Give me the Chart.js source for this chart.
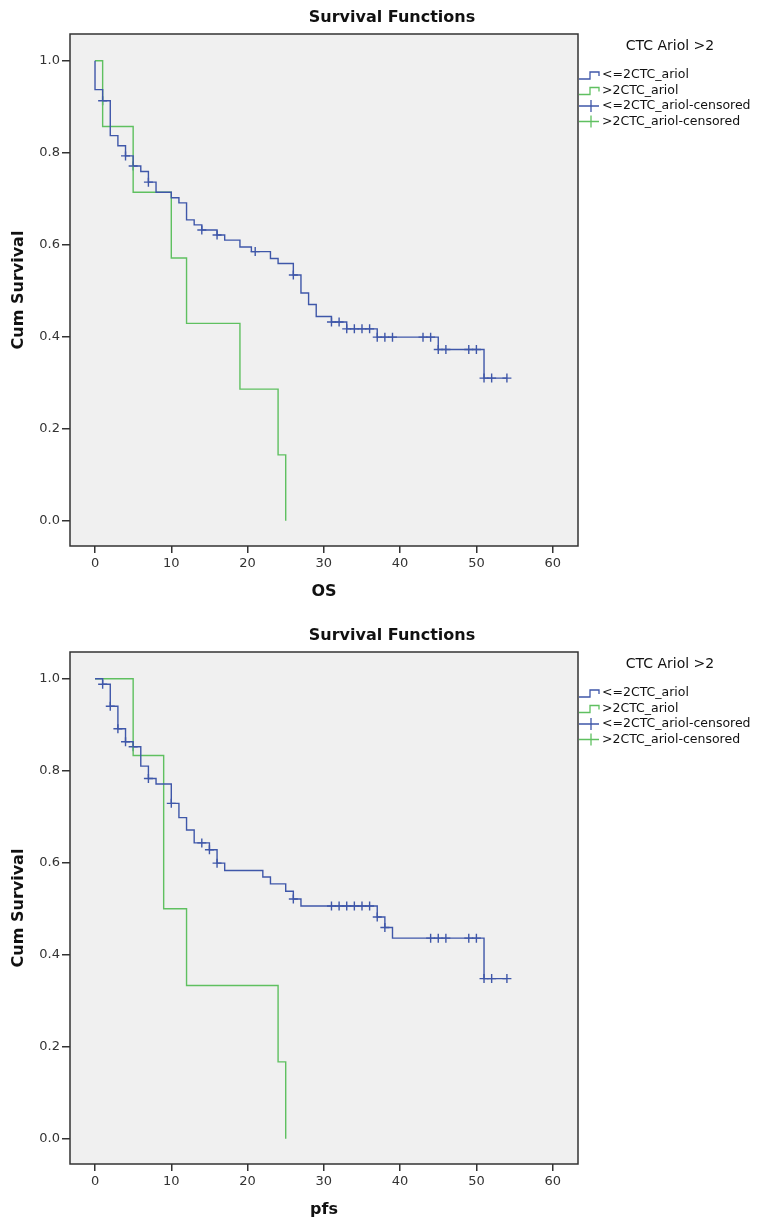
<!DOCTYPE html>
<html>
<head>
<meta charset="utf-8">
<script src="https://cdn.jsdelivr.net/npm/chart.js@4.4.1/dist/chart.umd.min.js"></script>
<style>
  body { margin: 0; background: #fff; }
  #wrap { position: relative; width: 774px; height: 1229px; }
  canvas { position: absolute; left: 0; }
</style>
</head>
<body>
<div id="wrap">
  <canvas id="osChart" width="774" height="611" style="top:0"></canvas>
  <canvas id="pfsChart" width="774" height="611" style="top:618px"></canvas>
</div>
<script>
// ---- data ----
const chartTitle = 'Survival Functions';
const legendTitle = 'CTC Ariol >2';
const seriesLabels = ['<=2CTC_ariol', '>2CTC_ariol', '<=2CTC_ariol-censored', '>2CTC_ariol-censored'];
const xTickValues = [0, 10, 20, 30, 40, 50, 60];
const yTickValues = [0, 0.2, 0.4, 0.6, 0.8, 1.0];

// OS, <=2 CTC
const osLowTime = [0, 0, 1, 2, 3, 4, 5, 6, 7, 8, 10, 11, 12, 13, 14, 16, 17, 19, 20.5, 23, 24, 26, 27, 28, 29, 31, 33, 37, 45, 51, 54];
const osLowSurv = [1.0, 0.937, 0.913, 0.837, 0.815, 0.793, 0.771, 0.759, 0.736, 0.714, 0.702, 0.691, 0.654, 0.643, 0.632, 0.621, 0.610, 0.595, 0.585, 0.570, 0.559, 0.534, 0.495, 0.470, 0.444, 0.432, 0.417, 0.399, 0.372, 0.310, 0.310];
const osLowCensTime = [1, 4, 5, 7, 14, 16, 21, 26, 31, 32, 33, 34, 35, 36, 37, 38, 39, 43, 44, 45, 46, 49, 50, 51, 52, 54];
const osLowCensSurv = [0.913, 0.793, 0.771, 0.736, 0.632, 0.621, 0.585, 0.534, 0.432, 0.432, 0.417, 0.417, 0.417, 0.417, 0.399, 0.399, 0.399, 0.399, 0.399, 0.372, 0.372, 0.372, 0.372, 0.310, 0.310, 0.310];
// OS, >2 CTC
const osHighTime = [0, 1, 5, 10, 12, 19, 24, 25];
const osHighSurv = [1.0, 0.857, 0.714, 0.571, 0.429, 0.286, 0.143, 0.0];

// PFS, <=2 CTC
const pfsLowTime = [0, 1, 2, 3, 4, 5, 6, 7, 8, 10, 11, 12, 13, 15, 16, 17, 22, 23, 25, 26, 27, 37, 38, 39, 51, 54];
const pfsLowSurv = [1.0, 0.988, 0.940, 0.891, 0.863, 0.852, 0.810, 0.783, 0.771, 0.729, 0.698, 0.671, 0.643, 0.628, 0.599, 0.583, 0.569, 0.554, 0.538, 0.521, 0.506, 0.482, 0.459, 0.436, 0.348, 0.348];
const pfsLowCensTime = [1, 2, 3, 4, 5, 7, 10, 14, 15, 16, 26, 31, 32, 33, 34, 35, 36, 37, 38, 44, 45, 46, 49, 50, 51, 52, 54];
const pfsLowCensSurv = [0.988, 0.940, 0.891, 0.863, 0.852, 0.783, 0.729, 0.643, 0.628, 0.599, 0.521, 0.506, 0.506, 0.506, 0.506, 0.506, 0.506, 0.482, 0.459, 0.436, 0.436, 0.436, 0.436, 0.436, 0.348, 0.348, 0.348];
// PFS, >2 CTC
const pfsHighTime = [0, 5, 9, 12, 24, 25];
const pfsHighSurv = [1.0, 0.833, 0.5, 0.333, 0.167, 0.0];

const BLUE = '#3f57a9';
const GREEN = '#5fc060';
const FONT = '"DejaVu Sans", sans-serif';

const toPoints = (t, s) => t.map((x, i) => ({ x: x, y: s[i] }));

// grey plot area, frame, title and the SPSS-style legend
const spssDecor = {
  id: 'spssDecor',
  beforeDraw(chart) {
    const a = chart.chartArea, ctx = chart.ctx;
    ctx.save();
    ctx.fillStyle = '#f0f0f0';
    ctx.fillRect(a.left, a.top, a.right - a.left, a.bottom - a.top);
    ctx.restore();
  },
  afterDraw(chart) {
    const a = chart.chartArea, ctx = chart.ctx;
    ctx.save();
    ctx.strokeStyle = '#333';
    ctx.lineWidth = 1.5;
    ctx.strokeRect(a.left, a.top, a.right - a.left, a.bottom - a.top);

    ctx.fillStyle = '#111';
    ctx.textAlign = 'center';
    ctx.textBaseline = 'middle';
    ctx.font = 'bold 16px ' + FONT;
    ctx.fillText(chartTitle, 392, 18);

    // legend
    ctx.font = '14px ' + FONT;
    ctx.fillText(legendTitle, 670, 46);
    ctx.font = '12.5px ' + FONT;
    ctx.textAlign = 'left';
    const colors = [BLUE, GREEN, BLUE, GREEN];
    const x0 = a.right + 1;
    seriesLabels.forEach((lab, i) => {
      const y = 75 + i * 15.5;
      ctx.strokeStyle = colors[i];
      ctx.lineWidth = 1.3;
      ctx.beginPath();
      if (i < 2) {
        ctx.moveTo(x0, y + 4); ctx.lineTo(x0 + 11, y + 4);
        ctx.lineTo(x0 + 11, y - 3); ctx.lineTo(x0 + 20, y - 3);
        ctx.lineTo(x0 + 20, y + 1);
      } else {
        ctx.moveTo(x0, y); ctx.lineTo(x0 + 20, y);
        ctx.moveTo(x0 + 12, y - 6); ctx.lineTo(x0 + 12, y + 6);
      }
      ctx.stroke();
      ctx.fillStyle = '#111';
      ctx.fillText(lab, x0 + 23, y);
    });
    ctx.restore();
  }
};

function makeChart(id, xTitle, low, high, lowCens, highCens) {
  const ctx = document.getElementById(id).getContext('2d');
  return new Chart(ctx, {
    type: 'scatter',
    data: {
      datasets: [
        { label: seriesLabels[0], data: low, showLine: true, stepped: true,
          borderColor: BLUE, borderWidth: 1.4, pointRadius: 0 },
        { label: seriesLabels[1], data: high, showLine: true, stepped: true,
          borderColor: GREEN, borderWidth: 1.4, pointRadius: 0 },
        { label: seriesLabels[2], data: lowCens, showLine: false, pointStyle: 'cross',
          pointRadius: 4.5, borderColor: BLUE, borderWidth: 1.4 },
        { label: seriesLabels[3], data: highCens, showLine: false, pointStyle: 'cross',
          pointRadius: 4.5, borderColor: GREEN, borderWidth: 1.4 }
      ]
    },
    options: {
      responsive: false,
      animation: false,
      layout: { padding: { top: 34, right: 196, left: 0, bottom: 0 } },
      plugins: { legend: { display: false }, title: { display: false }, tooltip: { enabled: false } },
      scales: {
        x: {
          type: 'linear', min: -3.28, max: 63.32,
          afterBuildTicks: (s) => { s.ticks = xTickValues.map(v => ({ value: v })); },
          afterFit: (s) => { s.height = 65; },
          grid: { drawOnChartArea: false, drawTicks: true, tickLength: 7, color: '#333', lineWidth: 1.5 },
          border: { display: false },
          ticks: { color: '#333', font: { family: FONT, size: 13 }, padding: 3 },
          title: { display: true, text: xTitle, color: '#111',
                   font: { family: FONT, size: 16, weight: 'bold' }, padding: { bottom: 10 } }
        },
        y: {
          type: 'linear', min: -0.055, max: 1.058,
          afterBuildTicks: (s) => { s.ticks = yTickValues.map(v => ({ value: v })); },
          afterFit: (s) => { s.width = 70; },
          grid: { drawOnChartArea: false, drawTicks: true, tickLength: 8, color: '#333', lineWidth: 1.5 },
          border: { display: false },
          ticks: { color: '#333', font: { family: FONT, size: 13 }, padding: 2,
                   callback: (v) => Number(v).toFixed(1) },
          title: { display: true, text: 'Cum Survival', color: '#111',
                   font: { family: FONT, size: 16, weight: 'bold' }, padding: { top: 9 } }
        }
      }
    },
    plugins: [spssDecor]
  });
}

makeChart('osChart', 'OS',
  toPoints(osLowTime, osLowSurv), toPoints(osHighTime, osHighSurv),
  toPoints(osLowCensTime, osLowCensSurv), []);
makeChart('pfsChart', 'pfs',
  toPoints(pfsLowTime, pfsLowSurv), toPoints(pfsHighTime, pfsHighSurv),
  toPoints(pfsLowCensTime, pfsLowCensSurv), []);
</script>
</body>
</html>
